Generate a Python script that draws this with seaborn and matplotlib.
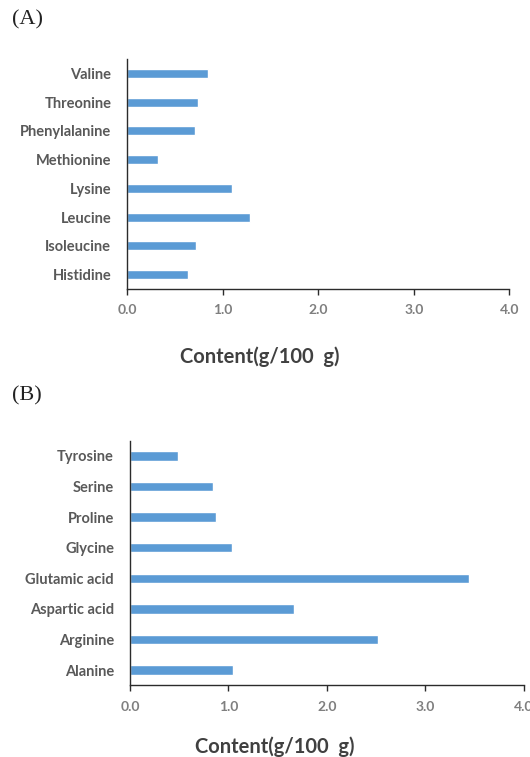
import pandas as pd
import matplotlib.pyplot as plt
import seaborn as sns

# panel A: essential amino acids (top to bottom)
names_a = ["Valine", "Threonine", "Phenylalanine", "Methionine",
           "Lysine", "Leucine", "Isoleucine", "Histidine"]
content_a = [0.85, 0.74, 0.71, 0.32, 1.10, 1.29, 0.72, 0.64]

# panel B: non-essential amino acids (top to bottom)
names_b = ["Tyrosine", "Serine", "Proline", "Glycine",
           "Glutamic acid", "Aspartic acid", "Arginine", "Alanine"]
content_b = [0.49, 0.84, 0.87, 1.04, 3.45, 1.67, 2.52, 1.05]

xticks = [0, 1, 2, 3, 4]
xtick_labels = ["0.0", "1.0", "2.0", "3.0", "4.0"]

sns.set_style("white")
plt.rcParams['font.family'] = ['Lato', 'DejaVu Sans']

fig = plt.figure(figsize=(5.3, 7.57), dpi=100)

W, H = 530, 757
# axes boxes in pixels: left, right, top, bottom
boxes = [(127.3, 509.3, 59, 289), (130, 523.5, 440.7, 685.3)]
label_pos = [(260, 346), (275, 736)]
panels = [(names_a, content_a, "(A)", 20), (names_b, content_b, "(B)", 396)]

for (l, r, t, b), (lx, ly), (names, vals, tag, ty) in zip(boxes, label_pos, panels):
    ax = fig.add_axes([l / W, 1 - b / H, (r - l) / W, (b - t) / H])
    df = pd.DataFrame({"Amino acid": names, "Content": vals})
    sns.barplot(data=df, x="Content", y="Amino acid", orient="h",
                color="#5B9BD5", saturation=1, width=0.31, ax=ax)
    ax.set_xlim(0, 4)
    ax.set_ylim(len(names) - 0.5, -0.5)
    ax.set_xticks(xticks)
    ax.set_xticklabels(xtick_labels)
    ax.set_ylabel("")
    ax.set_xlabel("Content(g/100  g)", fontsize=14.5, fontweight="bold",
                  color="#404040")
    ax.xaxis.set_label_coords((lx - l) / (r - l), (b - ly) / (b - t))
    for s in ["top", "right"]:
        ax.spines[s].set_visible(False)
    for s in ["left", "bottom"]:
        ax.spines[s].set_color("#2b2b2b")
        ax.spines[s].set_linewidth(1.0)
    ax.tick_params(axis="x", which="major", bottom=True, direction="out",
                   length=4, width=1.0, color="#2b2b2b", pad=7,
                   labelsize=10, labelcolor="#7f7f7f")
    ax.tick_params(axis="y", left=False, pad=8, labelsize=10.5,
                   labelcolor="#595959")
    for lab in ax.get_xticklabels() + ax.get_yticklabels():
        lab.set_fontweight("bold")
    fig.text(12 / W, 1 - ty / H, tag, fontsize=16, va="center", ha="left",
             family=["Liberation Serif", "DejaVu Serif"], color="#222222")

fig.savefig("out.png", dpi=100)
